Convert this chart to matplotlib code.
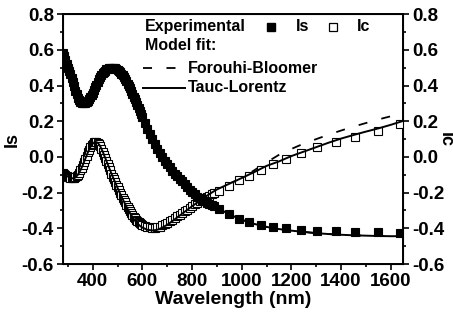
import matplotlib
matplotlib.use("Agg")
import matplotlib.pyplot as plt
from matplotlib.ticker import MultipleLocator

# wavelength (nm) of the experimental points
wavelength = [280, 285, 290, 295, 300, 305, 310, 315, 320, 325,
              330, 335, 340, 345, 350, 355, 360, 365, 370, 375,
              380, 385, 390, 395, 400, 405, 410, 415, 420, 425,
              430, 435, 440, 445, 450, 455, 460, 465, 470, 475,
              480, 485, 490, 495, 500, 505, 510, 515, 520, 525,
              530, 535, 540, 545, 550, 555, 560, 565, 570, 575,
              580, 585, 590, 595, 600,
              610, 620, 630, 640, 650, 660, 670, 680, 690, 700,
              710, 720, 730, 740, 750, 760, 770, 780, 790, 800,
              810, 820, 830, 840, 850, 860, 870, 880, 890,
              909, 950, 990, 1030, 1078, 1125, 1179, 1240, 1305, 1379,
              1456, 1550, 1637]

# experimental Is
is_exp = [0.585, 0.565, 0.545, 0.523, 0.50, 0.483, 0.465, 0.443, 0.42, 0.395,
          0.37, 0.35, 0.333, 0.318, 0.308, 0.302, 0.300, 0.300, 0.302, 0.307,
          0.315, 0.324, 0.335, 0.347, 0.36, 0.375, 0.39, 0.405, 0.42, 0.434,
          0.447, 0.458, 0.468, 0.477, 0.484, 0.49, 0.495, 0.498, 0.50, 0.501,
          0.50, 0.498, 0.496, 0.492, 0.487, 0.481, 0.474, 0.466, 0.457, 0.447,
          0.436, 0.424, 0.411, 0.398, 0.384, 0.369, 0.354, 0.338, 0.322, 0.306,
          0.289, 0.272, 0.256, 0.239, 0.222,
          0.19, 0.159, 0.128, 0.099, 0.072, 0.047, 0.024, 0.001, -0.02, -0.04,
          -0.059, -0.077, -0.093, -0.108, -0.122, -0.137, -0.153, -0.168,
          -0.183, -0.197,
          -0.21, -0.222, -0.232, -0.241, -0.249, -0.256, -0.263, -0.27, -0.277,
          -0.29, -0.318, -0.345, -0.363, -0.38, -0.392, -0.40, -0.408, -0.413,
          -0.417, -0.42, -0.422, -0.425]

# experimental Ic
ic_exp = [-0.09, -0.095, -0.10, -0.105, -0.11, -0.114, -0.118, -0.12, -0.12,
          -0.118,
          -0.115, -0.108, -0.10, -0.088, -0.075, -0.06, -0.045, -0.028, -0.01,
          0.008,
          0.025, 0.041, 0.055, 0.067, 0.075, 0.082, 0.085, 0.084, 0.08, 0.071,
          0.06, 0.046, 0.03, 0.013, -0.005, -0.022, -0.04, -0.058, -0.075,
          -0.093,
          -0.11, -0.125, -0.14, -0.155, -0.17, -0.185, -0.20, -0.214, -0.228,
          -0.242,
          -0.255, -0.268, -0.28, -0.292, -0.303, -0.314, -0.325, -0.334,
          -0.343, -0.351,
          -0.358, -0.364, -0.37, -0.375, -0.38,
          -0.386, -0.391, -0.395, -0.397, -0.397, -0.395, -0.39, -0.383,
          -0.375, -0.368,
          -0.36, -0.352, -0.343, -0.333, -0.323, -0.314, -0.304, -0.295,
          -0.285, -0.275,
          -0.266, -0.256, -0.248, -0.24, -0.232, -0.224, -0.216, -0.209,
          -0.202,
          -0.19, -0.16, -0.13, -0.105, -0.075, -0.042, -0.01, 0.02, 0.054,
          0.085, 0.113, 0.145, 0.185]

# wavelength (nm) of the model curves
fit_wl = [280, 290, 300, 310, 320, 330, 340, 350, 360, 370,
          380, 390, 400, 410, 420, 430, 440, 450, 460, 470,
          480, 490, 500, 510, 520, 530, 540, 550, 560, 570,
          580, 590, 600,
          620, 640, 660, 680, 700, 720, 740, 760, 780, 800, 820, 840, 860,
          880, 900,
          950, 1000, 1050, 1100, 1150, 1200, 1250, 1300, 1350, 1400, 1450,
          1500, 1550, 1600, 1650]

# Tauc-Lorentz fit
is_tl = [0.58, 0.545, 0.50, 0.465, 0.42, 0.37, 0.333, 0.308, 0.300, 0.302,
         0.315, 0.335, 0.36, 0.39, 0.42, 0.447, 0.468, 0.484, 0.495, 0.50,
         0.50, 0.496, 0.487, 0.474, 0.457, 0.436, 0.411, 0.384, 0.354, 0.322,
         0.289, 0.256, 0.222,
         0.159, 0.099, 0.047, 0.001, -0.04, -0.077, -0.108, -0.137, -0.168,
         -0.197, -0.222, -0.241, -0.256, -0.27, -0.284,
         -0.322, -0.352, -0.375, -0.392, -0.404, -0.413, -0.42, -0.427,
         -0.432, -0.436, -0.439, -0.441, -0.443, -0.444, -0.444]
ic_tl = [-0.09, -0.10, -0.11, -0.118, -0.12, -0.115, -0.10, -0.075, -0.045,
         -0.01,
         0.025, 0.055, 0.075, 0.085, 0.08, 0.06, 0.03, -0.005, -0.04, -0.075,
         -0.11, -0.142, -0.174, -0.205, -0.235, -0.263, -0.29, -0.315, -0.337,
         -0.357,
         -0.373, -0.386, -0.396,
         -0.408, -0.412, -0.408, -0.396, -0.38, -0.36, -0.339, -0.318, -0.297,
         -0.276, -0.256, -0.236, -0.217, -0.199, -0.182,
         -0.15, -0.118, -0.085, -0.05, -0.025, 0.005, 0.03, 0.055, 0.08,
         0.103, 0.123, 0.142, 0.16, 0.18, 0.202]

# Forouhi-Bloomer fit (same as Tauc-Lorentz below 1000 nm)
is_fb = is_tl
ic_fb = ic_tl[:50] + [-0.075, -0.03, 0.012, 0.045, 0.075, 0.10, 0.125,
                      0.148, 0.17, 0.19, 0.21, 0.228, 0.246]

yticks = [-0.6, -0.4, -0.2, 0.0, 0.2, 0.4, 0.6, 0.8]
xticks = [400, 600, 800, 1000, 1200, 1400, 1600]

plt.rcParams["font.family"] = "Liberation Sans"
plt.rcParams["font.weight"] = "bold"

fig = plt.figure(figsize=(4.53, 3.22), dpi=100)
ax = fig.add_axes([0.139, 0.180, 0.751, 0.776])

ms = 5.2
dash = (0, (5, 8))
ax.plot(fit_wl, ic_fb, color="black", lw=1.3, ls=dash, zorder=2)
ax.plot(fit_wl, is_fb, color="black", lw=1.3, ls=dash, zorder=2)
ax.plot(wavelength, ic_exp, ls="none", marker="s", ms=ms, mfc="white",
        mec="black", mew=0.8, zorder=3)
ax.plot(wavelength, is_exp, ls="none", marker="s", ms=ms, mfc="black",
        mec="black", mew=0.8, zorder=3)
ax.plot(fit_wl, ic_tl, color="black", lw=1.4, zorder=4)
ax.plot(fit_wl, is_tl, color="black", lw=1.4, zorder=4)

ax.set_xlim(280, 1650)
ax.set_ylim(-0.6, 0.8)
ax.set_xticks(xticks)
ax.set_yticks(yticks)
ax.xaxis.set_minor_locator(MultipleLocator(100))
ax.yaxis.set_minor_locator(MultipleLocator(0.1))
ax.set_yticklabels([f"{v:.1f}" for v in yticks])
ax.tick_params(which="both", direction="out", width=1.2, labelsize=13.5,
               top=False, pad=2.5)
ax.tick_params(which="major", length=4)
ax.tick_params(which="minor", length=2.5)
for s in ax.spines.values():
    s.set_linewidth(1.4)
ax.set_xlabel("Wavelength (nm)", fontsize=14, fontweight="bold", labelpad=1)
ax.set_ylabel("Is", fontsize=13, fontweight="bold", labelpad=1)

ax2 = ax.twinx()
ax2.set_ylim(-0.6, 0.8)
ax2.set_yticks(yticks)
ax2.yaxis.set_minor_locator(MultipleLocator(0.1))
ax2.set_yticklabels([f"{v:.1f}" for v in yticks])
ax2.tick_params(which="both", direction="out", width=1.2, labelsize=13.5,
                pad=2.5)
ax2.tick_params(which="major", length=4)
ax2.tick_params(which="minor", length=2.5)
ax2.set_ylabel("Ic", fontsize=13, fontweight="bold", rotation=270,
               va="center")
ax2.yaxis.set_label_coords(1.125, 0.5)

# legend block
fs = 11.5
tr = ax.transAxes
ax.text(0.24, 0.950, "Experimental", transform=tr, fontsize=fs,
        fontweight="bold", va="center")
ax.plot([0.612], [0.950], transform=tr, marker="s", ms=ms, mfc="black",
        mec="black", ls="none", clip_on=False)
ax.text(0.686, 0.950, "Is", transform=tr, fontsize=fs, fontweight="bold",
        va="center")
ax.plot([0.794], [0.950], transform=tr, marker="s", ms=ms, mfc="white",
        mec="black", mew=0.9, ls="none", clip_on=False)
ax.text(0.863, 0.950, "Ic", transform=tr, fontsize=fs, fontweight="bold",
        va="center")
ax.text(0.24, 0.874, "Model fit:", transform=tr, fontsize=fs,
        fontweight="bold", va="center")
ax.plot([0.235, 0.36], [0.784, 0.784], transform=tr, color="black", lw=1.3,
        ls=dash)
ax.text(0.368, 0.784, "Forouhi-Bloomer", transform=tr, fontsize=fs,
        fontweight="bold", va="center")
ax.plot([0.235, 0.36], [0.706, 0.706], transform=tr, color="black", lw=1.4)
ax.text(0.368, 0.706, "Tauc-Lorentz", transform=tr, fontsize=fs,
        fontweight="bold", va="center")

fig.savefig("out.png", dpi=100)
